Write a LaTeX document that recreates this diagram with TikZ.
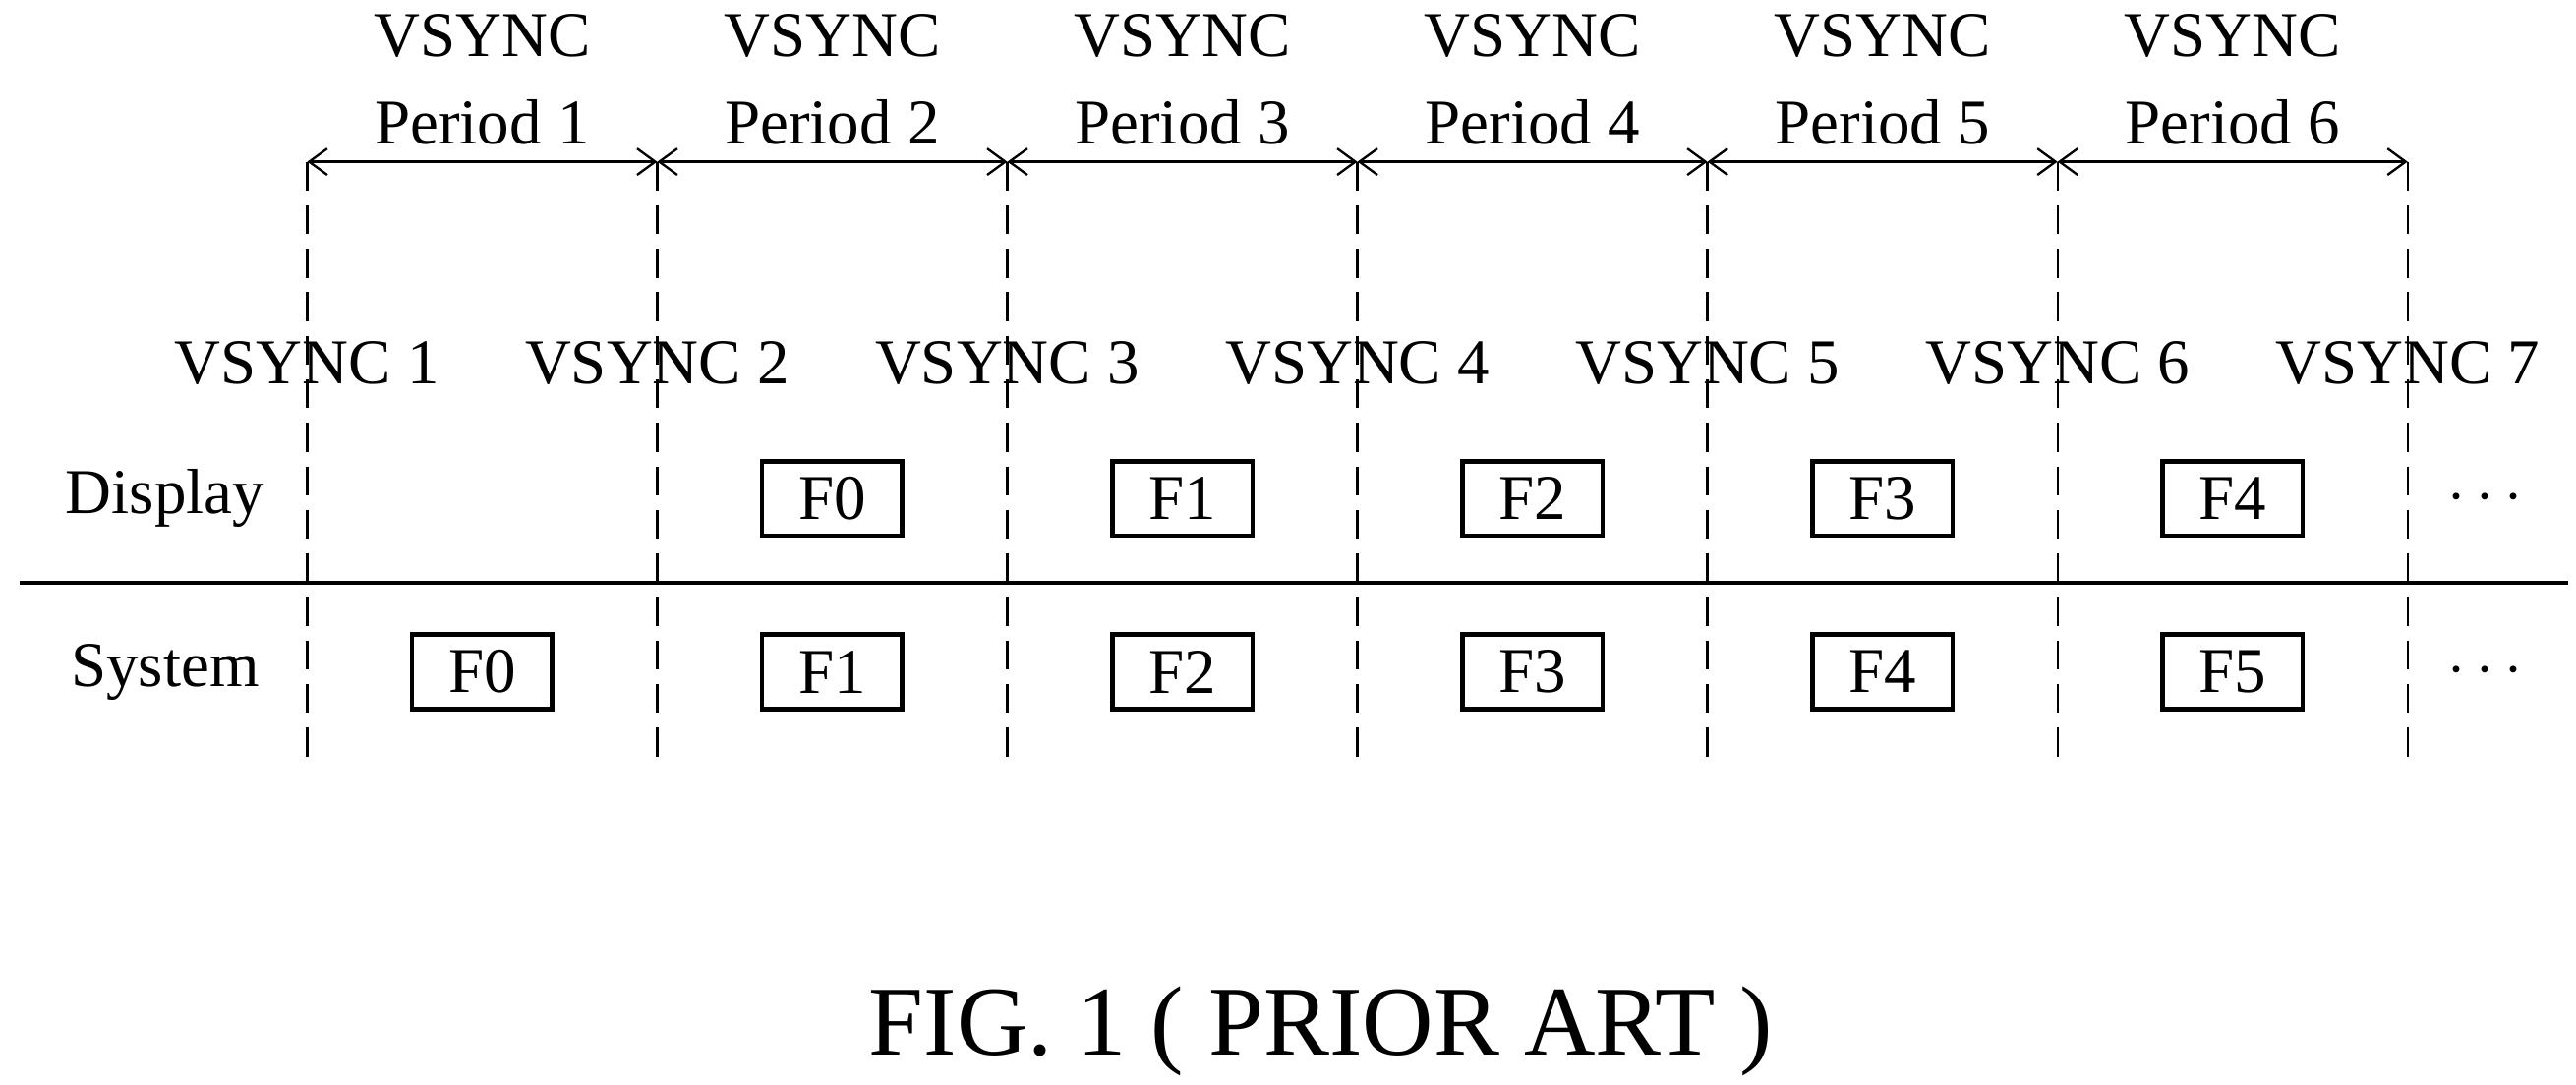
\documentclass[tikz,border=0pt]{standalone}
\usepackage{fontspec}
\setmainfont{Liberation Serif}
\usetikzlibrary{arrows.meta,calc}
\begin{document}
\begin{tikzpicture}[font=\fontsize{11}{13}\selectfont]
    \tikzset{frame/.style={draw, thick, minimum width=0.85cm, minimum height=0.45cm, inner sep=0pt}}
    \useasboundingbox (0,0) rectangle (15.6,6.57);

    % dashed sync lines and their labels
    \foreach \i in {1,...,7} {
        \coordinate (top\i) at ({1.86+2.12*(\i-1)},5.59);
        \coordinate (bot\i) at ({1.86+2.12*(\i-1)},1.95);
        \path[draw, dash pattern=on 5pt off 2.5pt] (top\i) -- (bot\i);
        \node (vs\i) at ({1.86+2.12*(\i-1)},4.37) {VSYNC \i};
    }

    % period arrows
    \foreach \i [evaluate=\i as \j using int(\i+1)] in {1,...,6} {
        \path[draw, -{Straight Barb[length=1.1mm, width=1.6mm]}] ($(top\i)!0.5!(top\j)$) -- (top\i);
        \path[draw, -{Straight Barb[length=1.1mm, width=1.6mm]}] ($(top\i)!0.5!(top\j)$) -- (top\j);
        \node[align=center] (per\i) at ($(top\i)!0.5!(top\j)+(0,0.5)$) {VSYNC\\[2pt]Period \i};
    }

    \path[draw, thick] (0.12,3.04) -- (15.55,3.04);

    \node (disp) at (1.0,3.55) {Display};
    \node (sys) at (1.0,2.5) {System};

    \foreach \i [evaluate=\i as \x using {1.86+2.12*(\i-0.5)}, evaluate=\i as \k using int(\i-1)] in {1,...,6} {
        \node[frame] (s\i) at (\x,2.5) {F\k};
    }
    \foreach \i [evaluate=\i as \x using {1.86+2.12*(\i-0.5)}, evaluate=\i as \k using int(\i-2)] in {2,...,6} {
        \node[frame] (d\i) at (\x,3.55) {F\k};
    }
    \node (ddots) at (15.05,3.55) {$\cdots$};
    \node (sdots) at (15.05,2.5) {$\cdots$};

    \node[font=\fontsize{17}{20}\selectfont] (cap) at (8.0,0.32) {FIG. 1 ( PRIOR ART )};
\end{tikzpicture}
\end{document}
